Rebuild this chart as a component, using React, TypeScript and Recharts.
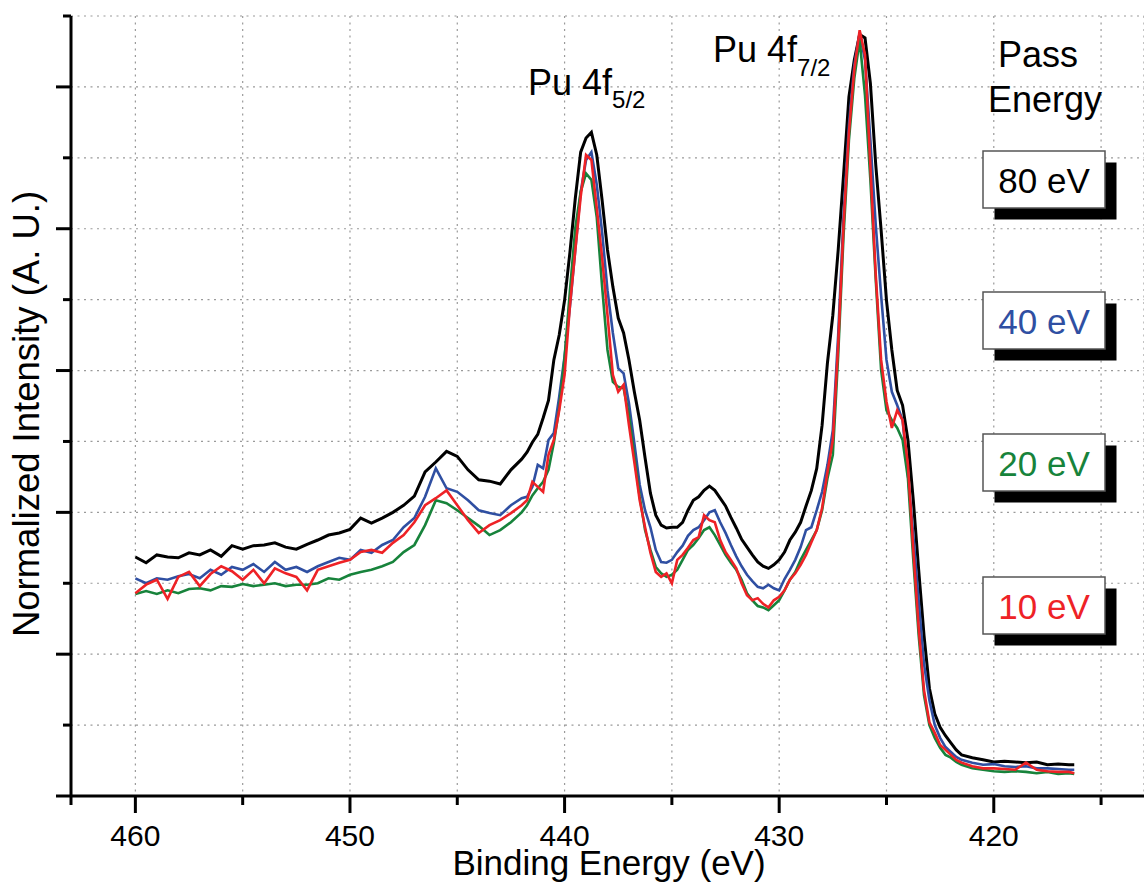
import { LineChart, Line, XAxis, YAxis, CartesianGrid } from "recharts";

const FONT = '"Liberation Sans", Arial, Helvetica, sans-serif';

// binding energy sampling (eV): coarse on the tail, finer across the 4f peaks
const energyTail = [
  460, 459.5, 459, 458.5, 458, 457.5, 457, 456.5, 456, 455.5,
  455, 454.5, 454, 453.5, 453, 452.5, 452, 451.5, 451, 450.5,
  450, 449.5, 449, 448.5, 448, 447.5, 447, 446.5, 446, 445.5,
  445, 444.5, 444, 443.5, 443, 442.5, 442,
];
const energyPeaks = [
  441.75, 441.5, 441.25, 441, 440.75, 440.5, 440.25, 440, 439.75, 439.5,
  439.25, 439, 438.75, 438.5, 438.25, 438, 437.75, 437.5, 437.25, 437,
  436.75, 436.5, 436.25, 436, 435.75, 435.5, 435.25, 435, 434.75, 434.5,
  434.25, 434, 433.75, 433.5, 433.25, 433, 432.75, 432.5, 432.25, 432,
  431.75, 431.5, 431.25, 431, 430.75, 430.5, 430.25, 430, 429.75, 429.5,
  429.25, 429, 428.75, 428.5, 428.25, 428, 427.75, 427.5, 427.25, 427,
  426.75, 426.5, 426.25, 426, 425.75, 425.5, 425.25, 425, 424.75, 424.5,
  424.25, 424, 423.75, 423.5, 423.25, 423, 422.75, 422.5, 422.25, 422,
  421.75, 421.5,
];
const energyEdge = [421, 420.5, 420, 419.5, 419, 418.5, 418, 417.5, 417, 416.5, 416.25];

const pass80 = [
  0.337, 0.329, 0.34, 0.337, 0.336, 0.343, 0.34, 0.347, 0.338, 0.353,
  0.348, 0.353, 0.354, 0.357, 0.351, 0.348, 0.355, 0.361, 0.368, 0.371,
  0.376, 0.392, 0.385, 0.392, 0.4, 0.41, 0.423, 0.457, 0.471, 0.486,
  0.479, 0.46, 0.446, 0.444, 0.44, 0.46, 0.475,
  0.485, 0.499, 0.51, 0.533, 0.558, 0.615, 0.65, 0.699, 0.767, 0.843,
  0.908, 0.928, 0.936, 0.904, 0.84, 0.77, 0.718, 0.674, 0.653, 0.615,
  0.57, 0.53, 0.477, 0.427, 0.396, 0.382, 0.378, 0.379, 0.379, 0.386,
  0.403, 0.417, 0.422, 0.431, 0.437, 0.431, 0.42, 0.409, 0.393, 0.378,
  0.362, 0.351, 0.34, 0.33, 0.324, 0.321, 0.326, 0.333, 0.344, 0.361,
  0.372, 0.386, 0.409, 0.431, 0.462, 0.523, 0.611, 0.678, 0.77, 0.876,
  0.986, 1.038, 1.074, 1.069, 1.005, 0.89, 0.798, 0.699, 0.629, 0.572,
  0.551, 0.502, 0.417, 0.319, 0.226, 0.152, 0.116, 0.097, 0.085, 0.075,
  0.065, 0.058,
  0.054, 0.051, 0.048, 0.049, 0.048, 0.047, 0.048, 0.044, 0.045, 0.044, 0.044,
];

const pass40 = [
  0.307, 0.3, 0.307, 0.305, 0.31, 0.313, 0.307, 0.319, 0.312, 0.323,
  0.319, 0.327, 0.316, 0.33, 0.319, 0.323, 0.316, 0.324, 0.33, 0.336,
  0.333, 0.347, 0.343, 0.354, 0.361, 0.379, 0.392, 0.422, 0.462, 0.434,
  0.429, 0.417, 0.403, 0.399, 0.396, 0.41, 0.42,
  0.422, 0.436, 0.467, 0.462, 0.502, 0.512, 0.563, 0.62, 0.69, 0.77,
  0.852, 0.897, 0.908, 0.862, 0.795, 0.713, 0.653, 0.603, 0.596, 0.554,
  0.498, 0.439, 0.403, 0.379, 0.347, 0.33, 0.329, 0.333, 0.344, 0.353,
  0.367, 0.375, 0.379, 0.389, 0.4, 0.403, 0.386, 0.371, 0.354, 0.338,
  0.324, 0.312, 0.303, 0.295, 0.293, 0.298, 0.293, 0.29, 0.306, 0.319,
  0.333, 0.351, 0.375, 0.379, 0.403, 0.429, 0.467, 0.516, 0.65, 0.819,
  0.946, 1.031, 1.076, 1.038, 0.925, 0.805, 0.706, 0.615, 0.57, 0.551,
  0.53, 0.453, 0.368, 0.276, 0.186, 0.135, 0.1, 0.082, 0.069, 0.062,
  0.055, 0.051,
  0.047, 0.044, 0.045, 0.042, 0.041, 0.042, 0.039, 0.039, 0.038, 0.037, 0.037,
];

const pass20 = [
  0.285, 0.289, 0.285, 0.29, 0.286, 0.292, 0.293, 0.29, 0.296, 0.295,
  0.299, 0.296, 0.298, 0.3, 0.296, 0.298, 0.298, 0.3, 0.307, 0.305,
  0.312, 0.316, 0.319, 0.324, 0.33, 0.344, 0.354, 0.382, 0.417, 0.413,
  0.403, 0.392, 0.381, 0.368, 0.375, 0.386, 0.4,
  0.41, 0.424, 0.434, 0.443, 0.46, 0.498, 0.547, 0.618, 0.713, 0.801,
  0.852, 0.878, 0.869, 0.816, 0.718, 0.629, 0.584, 0.577, 0.575, 0.537,
  0.479, 0.422, 0.375, 0.347, 0.323, 0.314, 0.309, 0.312, 0.319, 0.333,
  0.347, 0.354, 0.364, 0.375, 0.379, 0.368, 0.354, 0.34, 0.329, 0.319,
  0.305, 0.286, 0.276, 0.268, 0.266, 0.262, 0.269, 0.276, 0.29, 0.305,
  0.316, 0.333, 0.347, 0.361, 0.375, 0.403, 0.448, 0.481, 0.622, 0.791,
  0.925, 1.012, 1.066, 0.988, 0.869, 0.728, 0.601, 0.544, 0.53, 0.519,
  0.502, 0.448, 0.333, 0.227, 0.142, 0.1, 0.082, 0.068, 0.058, 0.054,
  0.048, 0.044,
  0.039, 0.037, 0.035, 0.034, 0.035, 0.034, 0.032, 0.034, 0.031, 0.032, 0.031,
];

const pass10 = [
  0.286, 0.298, 0.305, 0.278, 0.309, 0.316, 0.296, 0.313, 0.324, 0.317,
  0.305, 0.319, 0.3, 0.321, 0.314, 0.309, 0.29, 0.319, 0.324, 0.329,
  0.333, 0.344, 0.347, 0.343, 0.357, 0.368, 0.386, 0.41, 0.42, 0.431,
  0.41, 0.389, 0.371, 0.382, 0.389, 0.399, 0.41,
  0.417, 0.443, 0.436, 0.429, 0.481, 0.502, 0.544, 0.594, 0.692, 0.77,
  0.845, 0.904, 0.897, 0.829, 0.759, 0.678, 0.594, 0.57, 0.58, 0.523,
  0.471, 0.417, 0.379, 0.343, 0.316, 0.309, 0.314, 0.3, 0.333, 0.34,
  0.35, 0.361, 0.365, 0.396, 0.389, 0.386, 0.361, 0.344, 0.333, 0.321,
  0.3, 0.283, 0.276, 0.279, 0.271, 0.266, 0.276, 0.281, 0.29, 0.305,
  0.314, 0.326, 0.34, 0.358, 0.375, 0.406, 0.457, 0.502, 0.636, 0.805,
  0.936, 1.024, 1.08, 1.045, 0.888, 0.735, 0.615, 0.556, 0.519, 0.544,
  0.53, 0.467, 0.347, 0.237, 0.149, 0.104, 0.089, 0.072, 0.065, 0.058,
  0.051, 0.047,
  0.042, 0.039, 0.039, 0.038, 0.037, 0.047, 0.037, 0.035, 0.034, 0.034, 0.032,
];

const xTicks = [463, 460, 455, 450, 445, 440, 435, 430, 425, 420, 415];
const yTicks = [0, 0.1, 0.2, 0.3, 0.4, 0.5, 0.6, 0.7, 0.8, 0.9, 1.0, 1.1];

const series = [
  { key: "pe80", label: "80 eV", color: "#000000", values: pass80, width: 3 },
  { key: "pe40", label: "40 eV", color: "#2f4fa2", values: pass40, width: 2.6 },
  { key: "pe20", label: "20 eV", color: "#17833b", values: pass20, width: 2.6 },
  { key: "pe10", label: "10 eV", color: "#ee2226", values: pass10, width: 2.6 },
];

const energies = [...energyTail, ...energyPeaks, ...energyEdge];

const rows = energies.map((e, i) => {
  const row: Record<string, number> = { e };
  series.forEach((s) => {
    row[s.key] = s.values[i];
  });
  return row;
});

const boxTops = [151, 292, 434, 577];

function XTick(props: any) {
  const { x, y, payload } = props;
  const v = payload.value;
  const major = v % 10 === 0;
  return (
    <g>
      <line x1={x} y1={y} x2={x} y2={y + (major ? 17 : 9)} stroke="#000" strokeWidth={3} />
      {major && (
        <text x={x} y={y + 50} textAnchor="middle" fontSize={30} fontFamily={FONT} fill="#000">
          {v}
        </text>
      )}
    </g>
  );
}

function YTick(props: any) {
  const { x, y, payload } = props;
  const major = Math.round(payload.value * 10) % 2 === 0;
  return <line x1={x} y1={y} x2={x - (major ? 15 : 8)} y2={y} stroke="#000" strokeWidth={3} />;
}

export default function App() {
  return (
    <div style={{ position: "absolute", left: 0, top: 0, width: 1144, height: 884, background: "#fff" }}>
      <LineChart
        width={1144}
        height={884}
        data={rows}
        margin={{ top: 16, right: 0, bottom: 0, left: 0 }}
        style={{ fontFamily: FONT }}
      >
        <CartesianGrid stroke="#9a9a9a" strokeWidth={1.2} strokeDasharray="2 4.5" />
        <XAxis
          dataKey="e"
          type="number"
          domain={[413, 463]}
          reversed
          allowDataOverflow
          ticks={xTicks}
          interval={0}
          height={88}
          tickSize={0}
          tickMargin={0}
          tickLine={false}
          axisLine={{ stroke: "#000", strokeWidth: 3 }}
          tick={(p: any) => <XTick {...p} />}
        />
        <YAxis
          type="number"
          domain={[0, 1.1]}
          allowDataOverflow
          ticks={yTicks}
          interval={0}
          width={71}
          tickSize={0}
          tickMargin={0}
          tickLine={false}
          axisLine={{ stroke: "#000", strokeWidth: 3 }}
          tick={(p: any) => <YTick {...p} />}
        />
        {series.map((s) => (
          <Line
            key={s.key}
            type="linear"
            dataKey={s.key}
            stroke={s.color}
            strokeWidth={s.width}
            dot={false}
            activeDot={false}
            isAnimationActive={false}
          />
        ))}
      </LineChart>

      <svg
        width={1144}
        height={884}
        style={{ position: "absolute", left: 0, top: 0, pointerEvents: "none" }}
        fontFamily={FONT}
      >
        <text transform="translate(39,414) rotate(-90)" textAnchor="middle" fontSize={36.5} fill="#000">
          Normalized Intensity (A. U.)
        </text>
        <text x={609} y={875} textAnchor="middle" fontSize={35} fill="#000">
          Binding Energy (eV)
        </text>

        <text x={528} y={95} fontSize={36} fill="#000">
          Pu 4f
          <tspan fontSize={24} dy={13}>5/2</tspan>
        </text>
        <text x={713} y={62} fontSize={36} fill="#000">
          Pu 4f
          <tspan fontSize={24} dy={14}>7/2</tspan>
        </text>

        <text x={998} y={67} fontSize={36} fill="#000">Pass</text>
        <text x={988} y={112} fontSize={36} fill="#000">Energy</text>

        {series.map((s, i) => (
          <g key={s.key}>
            <rect x={994.5} y={boxTops[i] + 11.5} width={122} height={57} fill="#000" />
            <rect x={983} y={boxTops[i]} width={122} height={57} fill="#fff" stroke="#555" strokeWidth={1.5} />
            <text x={1044} y={boxTops[i] + 42} textAnchor="middle" fontSize={35} fill={s.color}>
              {s.label}
            </text>
          </g>
        ))}
      </svg>
    </div>
  );
}
